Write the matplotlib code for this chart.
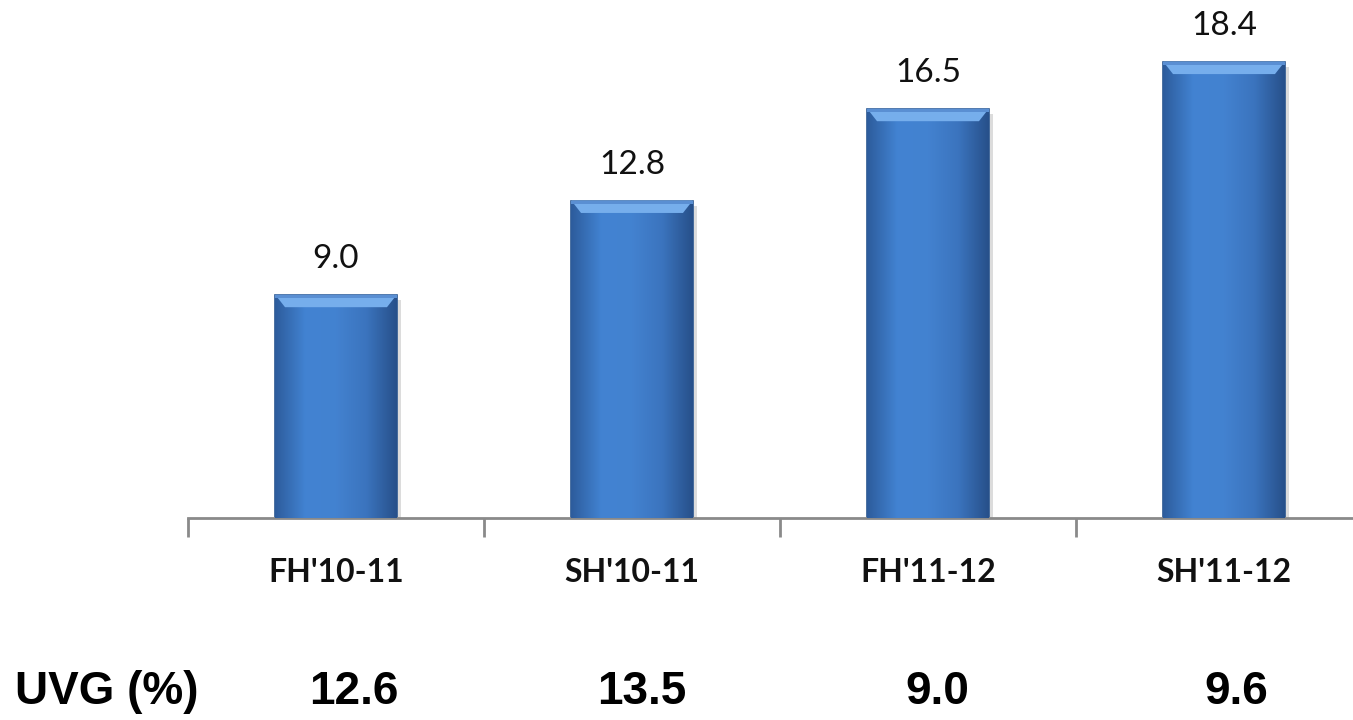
import numpy as np
import matplotlib.pyplot as plt
from matplotlib.colors import LinearSegmentedColormap

# ------------------------------------------------------ #
#                         Data                           #
# ------------------------------------------------------ #
periods = ["FH'10-11", "SH'10-11", "FH'11-12", "SH'11-12"]
values = [9.0, 12.8, 16.5, 18.4]
uvg = [12.6, 13.5, 9.0, 9.6]
uvg_x = [354, 642, 937, 1236]   # pixel centres of the UVG row

W, H = 1353, 720
fig = plt.figure(figsize=(W / 100, H / 100), dpi=100)
ax = fig.add_axes([188 / W, 202 / H, 1165 / W, 496 / H])

x = np.arange(len(periods))
bars = ax.bar(x, values, width=0.41, color='#3C76C4', edgecolor='#2A5690',
              linewidth=1.2, zorder=2)

# bevel-ish gradient on each bar
cmap = LinearSegmentedColormap.from_list('bev', ['#2D5C9C', '#4283D2', '#4382D0', '#3B74BE', '#27508A'])
grad = np.linspace(0, 1, 256).reshape(1, -1)
for b in bars:
    x0, w, h = b.get_x(), b.get_width(), b.get_height()
    # shadow
    ax.add_patch(plt.Rectangle((x0 + 0.015, -0.2), w, h, color='#dcdcdc', zorder=1, lw=0))
    im = ax.imshow(grad, cmap=cmap, aspect='auto', extent=(x0, x0 + w, 0, h), zorder=3)
    im.set_clip_path(b)
    # light top edge
    ax.add_patch(plt.Polygon([(x0, h), (x0 + w, h), (x0 + w * 0.92, h - 0.5), (x0 + w * 0.08, h - 0.5)],
                             closed=True, color='#76AEEC', lw=0, zorder=4))
    ax.add_patch(plt.Rectangle((x0, h - 0.12), w, 0.12, color='#5A8FD3', lw=0, zorder=4))
    ax.text(x0 + w / 2, h + 1.45, f"{h:.1f}", ha='center', va='center',
            fontsize=24, family=['Lato', 'DejaVu Sans'], color='#111111')

ax.set_xlim(-0.5, -0.5 + 1165 / 296)
ax.set_ylim(0, 20)
for s in ['top', 'right', 'left']:
    ax.spines[s].set_visible(False)
ax.spines['bottom'].set_color('#8a8a8a')
ax.spines['bottom'].set_linewidth(2)
ax.set_yticks([])
ax.set_xticks(np.arange(-0.5, 3.0, 1.0))
ax.set_xticklabels([])
ax.tick_params(axis='x', length=14, width=2, color='#8a8a8a', direction='out')

for i, p in enumerate(periods):
    ax.text(i, -2.2, p, ha='center', va='center', fontsize=23, fontweight='bold',
            family=['Lato', 'DejaVu Sans'], color='#111111')

# UVG row
fam = ['Liberation Sans', 'DejaVu Sans']
fig.text(15 / W, 1 - 692 / H, 'UVG (%)', ha='left', va='center', fontsize=33,
         fontweight='bold', family=fam)
for xp, v in zip(uvg_x, uvg):
    fig.text(xp / W, 1 - 692 / H, f"{v:.1f}", ha='center', va='center', fontsize=33,
             fontweight='bold', family=fam)

fig.savefig('out.png', dpi=100)
